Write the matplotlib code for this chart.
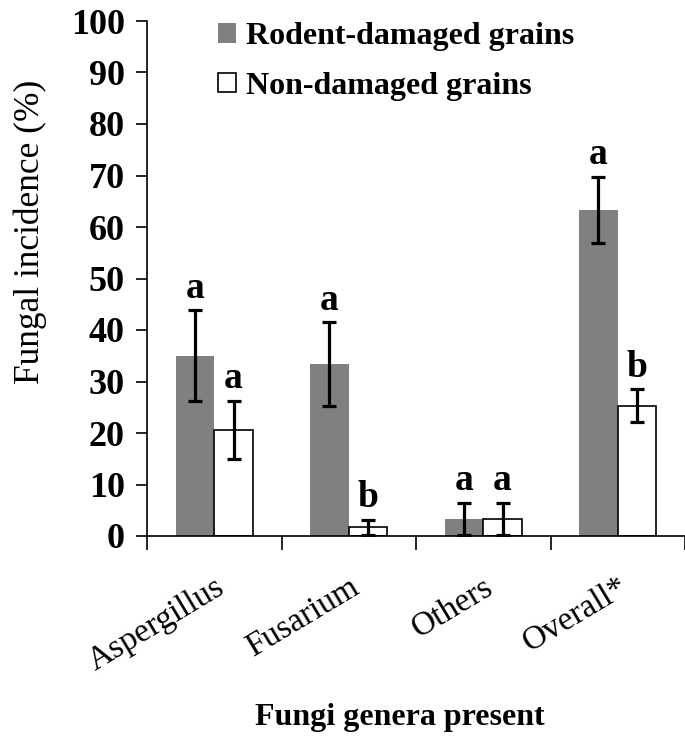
import matplotlib
matplotlib.use("Agg")
import matplotlib.pyplot as plt
import numpy as np

categories = ["Aspergillus", "Fusarium", "Others", "Overall*"]
rodent = [35.0, 33.4, 3.3, 63.3]
rodent_err = [8.8, 8.1, 3.2, 6.4]
nondam = [20.6, 1.7, 3.3, 25.3]
nondam_err = [5.7, 1.5, 3.2, 3.2]
rodent_letters = ["a", "a", "a", "a"]
nondam_letters = ["a", "b", "a", "b"]
series_names = ["Rodent-damaged grains", "Non-damaged grains"]
yticks = [0, 10, 20, 30, 40, 50, 60, 70, 80, 90, 100]

plt.rcParams['font.family'] = ['Liberation Serif', 'DejaVu Serif']

W, H = 685, 747
fig = plt.figure(figsize=(W/100, H/100), dpi=100)
left_px, right_px, bottom_px, top_px = 147, 685, 536, 21
ax = fig.add_axes([left_px/W, 1-bottom_px/H, (right_px-left_px)/W, (bottom_px-top_px)/H])

x = np.arange(len(categories))
bw = 0.288
ekw = dict(elinewidth=2.3, capthick=2.3, capsize=5, ecolor='black')
ax.bar(x - bw/2, rodent, bw, color='#808080', edgecolor='none', label=series_names[0],
       yerr=rodent_err, error_kw=ekw)
ax.bar(x + bw/2, nondam, bw, color='white', edgecolor='black', linewidth=1.2,
       label=series_names[1], yerr=nondam_err, error_kw=ekw)

for i in range(len(categories)):
    ax.text(x[i] - bw/2, rodent[i] + rodent_err[i] + 0.9, rodent_letters[i],
            ha='center', va='bottom', fontsize=27, fontweight='bold')
    ax.text(x[i] + bw/2, nondam[i] + nondam_err[i] + 0.9, nondam_letters[i],
            ha='center', va='bottom', fontsize=27, fontweight='bold')

cat_w_px = 135.5
ax.set_xlim(-0.5, -0.5 + (right_px-left_px)/cat_w_px)
ax.set_ylim(0, 100)
ax.set_yticks(yticks)
ax.set_yticklabels([str(v) for v in yticks], fontsize=26, fontweight='bold')
ax.tick_params(axis='y', direction='out', length=8, width=1.2, pad=8)

ax.set_xticks(x)
ax.set_xticklabels(categories, rotation=31, ha='right', rotation_mode='anchor',
                   fontsize=24)
ax.tick_params(axis='x', which='major', length=0, pad=26)
ax.set_xticks(np.arange(-0.5, len(categories), 1.0), minor=True)
ax.tick_params(axis='x', which='minor', direction='out', length=10, width=1.2)

for s in ['top', 'right']:
    ax.spines[s].set_visible(False)
for s in ['left', 'bottom']:
    ax.spines[s].set_linewidth(1.2)

ax.set_ylabel("Fungal incidence (%)", fontsize=25.5)
ax.yaxis.set_label_coords(-0.185, 0.59)
fig.text(400/W, 1-718/H, "Fungi genera present", ha='center', va='center',
         fontsize=23, fontweight='bold')

leg = ax.legend(loc='upper left', bbox_to_anchor=(196/W, 1-0/H),
                bbox_transform=fig.transFigure, frameon=False,
                prop={'size': 23, 'weight': 'bold'}, handlelength=0.55,
                handleheight=0.55, handletextpad=0.3, labelspacing=0.65,
                borderpad=0.2)

fig.savefig("out.png", dpi=100)
